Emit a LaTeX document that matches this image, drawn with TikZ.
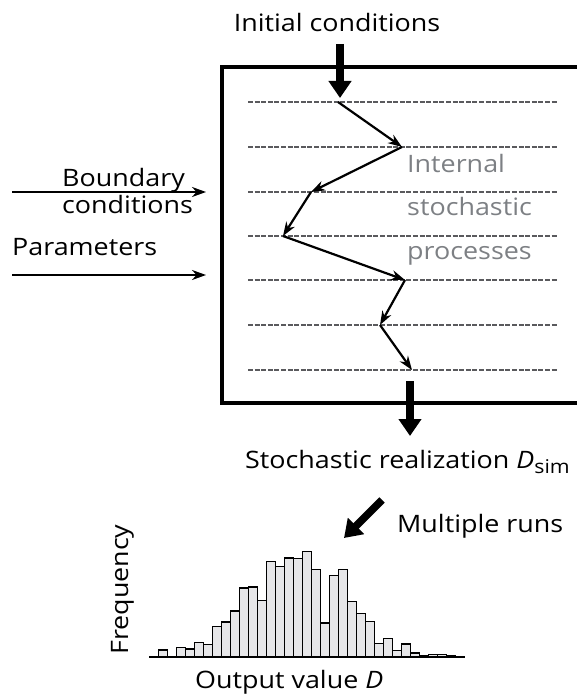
\documentclass[tikz,border=0pt]{standalone}
\usepackage{fontspec}
\setmainfont[FakeStretch=1.12]{Open Sans}
\usetikzlibrary{arrows.meta,positioning}

\definecolor{procgray}{RGB}{125,128,132}
\definecolor{dashgray}{RGB}{90,90,93}
\definecolor{barfill}{RGB}{230,230,232}

\begin{document}
\begin{tikzpicture}[
    x=1pt, y=-1pt,
    lbl/.style={font=\fontsize{24}{28}\selectfont, inner sep=0pt},
    thinarrow/.style={-{Stealth[length=14pt,width=10pt]}, line width=2.2pt},
    fatarrow/.style={-{Triangle[length=17pt,width=22pt]}, line width=7.5pt},
    level/.style={dashgray, line width=2.8pt, dash pattern=on 5pt off 1.6pt},
    bar/.style={draw=black, fill=barfill, line width=1.3pt}
]
    \useasboundingbox (0,0) rectangle (576,695);

    % model box
    \draw[line width=3.5pt] (600,67) -- (222,67) -- (222,403) -- (600,403);

    % levels of the internal process
    \foreach \y in {102,147,192,236,280,325,370}
        \draw[level] (248,\y) -- (557,\y);

    % zigzag of the stochastic path
    \coordinate (p1) at (338,102);
    \coordinate (p2) at (402,147);
    \coordinate (p3) at (311,192);
    \coordinate (p4) at (283,236);
    \coordinate (p5) at (405,280);
    \coordinate (p6) at (380,325);
    \coordinate (p7) at (412,370);
    \foreach \a/\b in {p1/p2,p2/p3,p3/p4,p4/p5,p5/p6,p6/p7}
        \draw[thinarrow] (\a) -- (\b);

    % labels
    \node[lbl, anchor=base] (init) at (337,32) {Initial conditions};
    \node[lbl, anchor=base west] (bnd) at (62,186) {Boundary};
    \node[lbl, anchor=base west] (cnd) at (62,213) {conditions};
    \node[lbl, anchor=base west] (par) at (12,255) {Parameters};
    \node[lbl, anchor=base west, procgray] (int) at (407,172) {Internal};
    \node[lbl, anchor=base west, procgray] (sto) at (407,215) {stochastic};
    \node[lbl, anchor=base west, procgray] (pro) at (407,259) {processes};
    \node[lbl, anchor=base west] (real) at (245,468)
        {Stochastic realization \textit{D}\raisebox{-0.45ex}{\fontsize{19}{19}\selectfont sim}};
    \node[lbl, anchor=base west] (runs) at (397,532) {Multiple runs};
    \node[lbl, anchor=base west] (outv) at (195,688) {Output value \textit{D}};
    \node[lbl, anchor=base west, rotate=90] (freq) at (128,655) {Frequency};

    % inputs
    \coordinate (bc0) at (12,192);
    \coordinate (bc1) at (206,192);
    \coordinate (pa0) at (12,275);
    \coordinate (pa1) at (206,275);
    \draw[thinarrow] (bc0) -- (bc1);
    \draw[thinarrow] (pa0) -- (pa1);

    % thick arrows
    \coordinate (in0) at (340,44);
    \coordinate (in1) at (340,98);
    \coordinate (out0) at (410,381);
    \coordinate (out1) at (410,436);
    \coordinate (mr0) at (382,500);
    \coordinate (mr1) at (344,538);
    \draw[fatarrow] (in0) -- (in1);
    \draw[fatarrow] (out0) -- (out1);
    \draw[fatarrow] (mr0) -- (mr1);

    % histogram
    \foreach \h [count=\i from 0] in {0.7,7,0,9.7,8,14.7,12.7,30.7,35,46,69,70,56.7,95.7,90.7,99,98.3,105.7,87.3,34,81.3,87.3,55.3,43.3,35.7,13.3,18.7,6.3,13,4,1.3,2.7,2.7,1.7}
        \draw[bar] ({149.3+9*\i},657) rectangle ({158.3+9*\i},{657-\h});
    \coordinate (ax0) at (149,657);
    \coordinate (ax1) at (465,657);
    \draw[line width=2pt] (ax0) -- (ax1);
\end{tikzpicture}
\end{document}
